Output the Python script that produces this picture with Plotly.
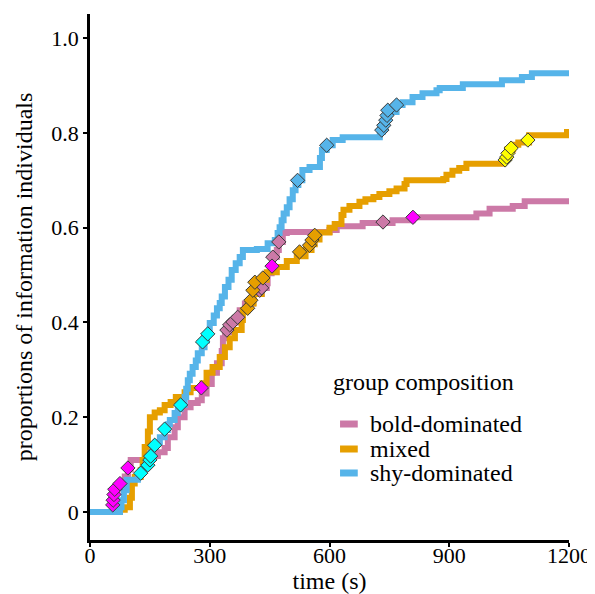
import plotly.graph_objects as go

# ---- step curves (time in s, proportion) ----
bold_t = [0, 57, 59, 62, 69, 77, 87, 95, 102, 150, 170, 187, 195, 212, 220, 237, 252, 270, 280, 292,
          305, 318, 330, 333, 338, 355, 375, 388, 408, 430, 443, 445, 455, 458, 468, 473, 483, 493,
          600, 618, 683, 758, 808, 968, 1001, 1059, 1089, 1200]
bold_p = [0, 0.015, 0.03, 0.046, 0.055, 0.06, 0.075, 0.09, 0.11, 0.118, 0.126, 0.135, 0.158, 0.179, 0.2,
          0.221, 0.23, 0.236, 0.25, 0.27, 0.294, 0.314, 0.34, 0.367, 0.38, 0.4, 0.426, 0.44, 0.46, 0.473,
          0.483, 0.504, 0.52, 0.538, 0.553, 0.57, 0.589, 0.591, 0.595, 0.603, 0.61, 0.616, 0.622, 0.63,
          0.64, 0.646, 0.656, 0.656]

mixed_t = [0, 75, 87, 100, 105, 112, 127, 132, 137, 145, 150, 162, 175, 187, 202, 215, 237, 252, 282,
           292, 307, 325, 338, 350, 363, 380, 383, 395, 410, 430, 443, 468, 493, 518, 540, 555, 563, 575,
           600, 613, 630, 635, 650, 675, 690, 710, 725, 750, 768, 788, 793, 885, 893, 908, 925, 943,
           1035, 1040, 1045, 1060, 1073, 1100, 1195, 1200]
mixed_p = [0, 0.005, 0.01, 0.03, 0.06, 0.074, 0.088, 0.11, 0.137, 0.17, 0.2, 0.21, 0.215, 0.226, 0.232,
           0.243, 0.253, 0.262, 0.272, 0.294, 0.306, 0.327, 0.348, 0.367, 0.384, 0.405, 0.426, 0.44,
           0.46, 0.49, 0.506, 0.517, 0.53, 0.54, 0.553, 0.565, 0.575, 0.59, 0.6, 0.608, 0.627, 0.638,
           0.646, 0.655, 0.66, 0.665, 0.671, 0.677, 0.683, 0.692, 0.70, 0.703, 0.712, 0.72, 0.726,
           0.735, 0.745, 0.755, 0.765, 0.775, 0.78, 0.795, 0.802, 0.802]

shy_t = [0, 75, 79, 85, 92, 120, 127, 135, 140, 147, 152, 157, 165, 175, 187, 195, 200, 212, 220, 227,
         237, 241, 245, 250, 257, 265, 270, 280, 287, 293, 300, 310, 318, 325, 330, 338, 347, 355, 365,
         375, 383, 418, 445, 463, 470, 475, 480, 485, 493, 500, 508, 515, 522, 532, 550, 576, 581, 593,
         608, 633, 726, 733, 740, 746, 768, 783, 808, 833, 868, 876, 934, 1032, 1082, 1107, 1200]
shy_p = [0, 0.01, 0.025, 0.046, 0.068, 0.078, 0.085, 0.095, 0.103, 0.115, 0.125, 0.137, 0.148, 0.158,
         0.173, 0.185, 0.194, 0.209, 0.218, 0.226, 0.243, 0.26, 0.278, 0.292, 0.306, 0.32, 0.335, 0.348,
         0.362, 0.378, 0.399, 0.415, 0.43, 0.441, 0.455, 0.475, 0.49, 0.511, 0.525, 0.538, 0.553, 0.555,
         0.567, 0.574, 0.589, 0.601, 0.616, 0.63, 0.643, 0.66, 0.679, 0.69, 0.70, 0.722, 0.728, 0.747,
         0.764, 0.774, 0.785, 0.791, 0.802, 0.812, 0.83, 0.844, 0.859, 0.865, 0.876, 0.884, 0.89, 0.895,
         0.903, 0.911, 0.918, 0.926, 0.926]

# ---- diamond markers ----
bold_mag_t = [57, 58, 60, 62, 75, 95, 279, 456, 809]
bold_mag_p = [0.015, 0.025, 0.037, 0.048, 0.06, 0.093, 0.262, 0.519, 0.622]
bold_pink_t = [343, 350, 358, 370, 425, 430, 458, 473, 734]
bold_pink_p = [0.384, 0.395, 0.401, 0.411, 0.468, 0.473, 0.538, 0.57, 0.612]
mixed_orange_t = [395, 403, 408, 413, 433, 525, 550, 556, 563]
mixed_orange_p = [0.43, 0.447, 0.468, 0.485, 0.494, 0.549, 0.563, 0.574, 0.584]
mixed_yellow_t = [1040, 1044, 1047, 1055, 1097]
mixed_yellow_p = [0.743, 0.749, 0.757, 0.768, 0.785]
shy_cyan_t = [127, 145, 150, 152, 162, 187, 227, 282, 295]
shy_cyan_p = [0.082, 0.099, 0.11, 0.118, 0.141, 0.175, 0.226, 0.359, 0.376]
shy_blue_t = [520, 593, 731, 736, 741, 744, 746, 768]
shy_blue_p = [0.70, 0.774, 0.806, 0.816, 0.827, 0.837, 0.848, 0.859]

x_ticks = [0, 300, 600, 900, 1200]
y_ticks = [0, 0.2, 0.4, 0.6, 0.8, 1.0]
y_ticklabels = ["0", "0.2", "0.4", "0.6", "0.8", "1.0"]

legend_title = "group composition"
group_names = ["bold-dominated", "mixed", "shy-dominated"]

PINK, ORANGE, BLUE = "#CC79A7", "#E69F00", "#56B4E9"
group_colors = [PINK, ORANGE, BLUE]
FONT = "Liberation Serif, Times New Roman, Times, serif"

fig = go.Figure()
for name, t, p, c in zip(group_names, [bold_t, mixed_t, shy_t], [bold_p, mixed_p, shy_p], group_colors):
    fig.add_trace(go.Scatter(x=t, y=p, mode="lines", name=name, showlegend=False,
                             line=dict(color=c, width=6, shape="hv")))

for t, p, c in [(bold_pink_t, bold_pink_p, PINK), (bold_mag_t, bold_mag_p, "#FF00FF"),
                (mixed_orange_t, mixed_orange_p, ORANGE), (mixed_yellow_t, mixed_yellow_p, "#FFFF00"),
                (shy_cyan_t, shy_cyan_p, "#00FFFF"), (shy_blue_t, shy_blue_p, BLUE)]:
    fig.add_trace(go.Scatter(x=t, y=p, mode="markers", showlegend=False,
                             marker=dict(symbol="diamond", size=11, color=c,
                                         line=dict(color="#3a3a3a", width=1))))

# legend drawn as a key in paper coordinates
fig.add_annotation(x=0.503, y=0.300, xref="paper", yref="paper", text=legend_title,
                   showarrow=False, xanchor="left", yanchor="middle", font=dict(size=24))
key_y = [0.2205, 0.173, 0.1274]
for name, c, ky in zip(group_names, group_colors, key_y):
    fig.add_shape(type="line", xref="paper", yref="paper", x0=0.522, x1=0.559, y0=ky, y1=ky,
                  line=dict(color=c, width=7))
    fig.add_annotation(x=0.581, y=ky, xref="paper", yref="paper", text=name, showarrow=False,
                       xanchor="left", yanchor="middle", font=dict(size=24))

# the page body adds an 8px offset, so margins are shifted to compensate
fig.update_layout(
    width=595, height=594,
    margin=dict(l=82, r=34, t=6, b=62),
    paper_bgcolor="white", plot_bgcolor="white",
    font=dict(family=FONT, size=22, color="black"),
    showlegend=False,
    xaxis=dict(range=[0, 1200], tickvals=x_ticks, showgrid=False, zeroline=False, automargin=False,
               showline=True, linecolor="black", linewidth=2.5,
               ticks="outside", ticklen=4, tickwidth=1.5, tickcolor="black",
               ticklabelstandoff=-10,
               title=dict(text="time (s)", font=dict(size=24), standoff=2)),
    yaxis=dict(range=[-0.059, 1.051], tickvals=y_ticks, ticktext=y_ticklabels,
               showgrid=False, zeroline=False, automargin=False,
               showline=True, linecolor="black", linewidth=2.5,
               ticks="outside", ticklen=4, tickwidth=1.5, tickcolor="black",
               title=dict(text="proportions of information individuals", font=dict(size=24),
                          standoff=12)),
)

fig.write_html("out.html")
